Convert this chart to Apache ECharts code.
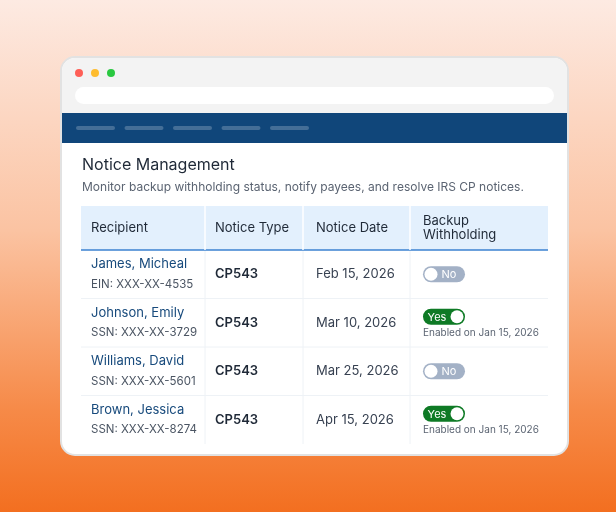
<!DOCTYPE html>
<html lang="en">
<head>
<meta charset="UTF-8">
<title>Notice Management</title>
<script src="https://cdn.jsdelivr.net/npm/echarts@6/dist/echarts.min.js"></script>
<style>html,body{margin:0;padding:0;}</style>
</head>
<body>
<div id="main" style="width:616px;height:512px;"></div>
<script>
// table data
var headers = ['Recipient', 'Notice Type', 'Notice Date', 'Backup\nWithholding'];
var names = ['James, Micheal', 'Johnson, Emily', 'Williams, David', 'Brown, Jessica'];
var taxIds = ['EIN: XXX-XX-4535', 'SSN: XXX-XX-3729', 'SSN: XXX-XX-5601', 'SSN: XXX-XX-8274'];
var noticeTypes = ['CP543', 'CP543', 'CP543', 'CP543'];
var noticeDates = ['Feb 15, 2026', 'Mar 10, 2026', 'Mar 25, 2026', 'Apr 15, 2026'];
var withholding = [false, true, false, true];
var enabledDates = ['', 'Jan 15, 2026', '', 'Jan 15, 2026'];

var font = 'Inter';
var colX = [81, 205, 303, 410, 548];
var textX = [91, 215, 316, 423];
var headTop = 206, headBot = 250, rowH = 48.5;
var els = [];

// page background
els.push({type: 'rect', shape: {x: 0, y: 0, width: 616, height: 512},
    style: {fill: new echarts.graphic.LinearGradient(0, 0, 0, 1, [
        {offset: 0, color: '#fdeae2'}, {offset: 0.45, color: '#fbc3a2'}, {offset: 0.8, color: '#f68a48'}, {offset: 1, color: '#f36f20'}])}});
// browser window
els.push({type: 'rect', shape: {x: 61, y: 57, width: 507, height: 398, r: 14},
    style: {fill: '#ffffff', stroke: '#e2e2e2', lineWidth: 2}});
els.push({type: 'rect', shape: {x: 62, y: 58, width: 505, height: 55, r: [13, 13, 0, 0]}, style: {fill: '#f3f3f3'}});
['#fe5f57', '#febc2e', '#29c840'].forEach(function (c, i) {
    els.push({type: 'circle', shape: {cx: 79 + i * 16, cy: 73, r: 4}, style: {fill: c}});
});
els.push({type: 'rect', shape: {x: 75, y: 87, width: 479, height: 17, r: 8.5}, style: {fill: '#ffffff'}});
els.push({type: 'rect', shape: {x: 62, y: 113, width: 505, height: 30}, style: {fill: '#10467a'}});
for (var p = 0; p < 5; p++) {
    els.push({type: 'rect', shape: {x: 76 + p * 48.5, y: 126, width: 39, height: 4, r: 2},
        style: {fill: 'rgba(255,255,255,0.22)'}});
}
// titles
els.push({type: 'text', x: 82, y: 165, style: {text: 'Notice Management', font: '16px ' + font,
    fill: '#1f2937', verticalAlign: 'middle'}});
els.push({type: 'text', x: 82, y: 187, style: {text: 'Monitor backup withholding status, notify payees, and resolve IRS CP notices.',
    font: '12px ' + font, fill: '#5b6472', verticalAlign: 'middle'}});
// header
els.push({type: 'rect', shape: {x: 81, y: headTop, width: 467, height: headBot - headTop}, style: {fill: '#e3f0fd'}});
els.push({type: 'line', shape: {x1: 81, y1: headBot, x2: 548, y2: headBot}, style: {stroke: '#3b82d0', lineWidth: 1.5}});
for (var c = 1; c < 4; c++) {
    els.push({type: 'line', shape: {x1: colX[c], y1: headTop, x2: colX[c], y2: headBot}, style: {stroke: '#ffffff', lineWidth: 1.5}});
    els.push({type: 'line', shape: {x1: colX[c], y1: headBot + 1, x2: colX[c], y2: headBot + rowH * 4}, style: {stroke: '#eef2f6', lineWidth: 1}});
}
headers.forEach(function (h, i) {
    els.push({type: 'text', x: textX[i], y: (headTop + headBot) / 2, style: {text: h, font: '13px ' + font,
        fill: '#1f2937', verticalAlign: 'middle', lineHeight: 14}});
});
// rows
names.forEach(function (n, r) {
    var top = headBot + r * rowH, mid = top + rowH / 2;
    if (r < names.length - 1) {
        els.push({type: 'line', shape: {x1: 81, y1: top + rowH, x2: 548, y2: top + rowH}, style: {stroke: '#eef2f6', lineWidth: 1}});
    }
    els.push({type: 'text', x: textX[0], y: mid - 10, style: {text: n, font: '13px ' + font, fill: '#174a7c', verticalAlign: 'middle'}});
    els.push({type: 'text', x: textX[0], y: mid + 10, style: {text: taxIds[r], font: '11.5px ' + font, fill: '#4b5563', verticalAlign: 'middle'}});
    els.push({type: 'text', x: textX[1], y: mid, style: {text: noticeTypes[r], font: '600 13px ' + font, fill: '#1f2937', verticalAlign: 'middle'}});
    els.push({type: 'text', x: textX[2], y: mid, style: {text: noticeDates[r], font: '13px ' + font, fill: '#374151', verticalAlign: 'middle'}});
    var on = withholding[r];
    var ty = on ? mid - 14 : mid - 8;
    els.push({type: 'rect', shape: {x: 423, y: ty, width: 42, height: 16, r: 8}, style: {fill: on ? '#0e7a25' : '#a3b1c6'}});
    els.push({type: 'circle', shape: {cx: on ? 457 : 431, cy: ty + 8, r: 6.5}, style: {fill: '#ffffff'}});
    els.push({type: 'text', x: on ? 437 : 449, y: ty + 8.5, style: {text: on ? 'Yes' : 'No', font: '11px ' + font,
        fill: '#ffffff', align: 'center', verticalAlign: 'middle'}});
    if (on) {
        els.push({type: 'text', x: 423, y: mid + 10, style: {text: 'Enabled on ' + enabledDates[r], font: '10px ' + font,
            fill: '#5b6472', verticalAlign: 'middle'}});
    }
});

var myChart = echarts.init(document.getElementById('main'));
myChart.setOption({animation: false, graphic: {elements: els}});
</script>
</body>
</html>
